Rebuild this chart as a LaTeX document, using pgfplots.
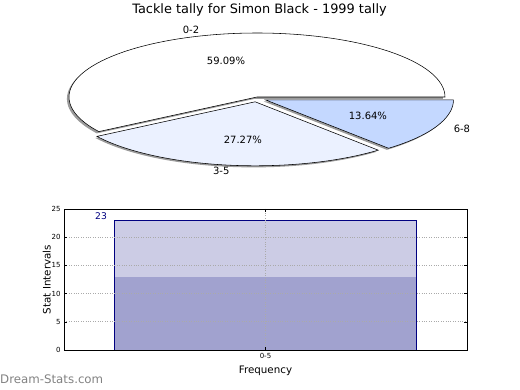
\documentclass[border=0pt]{standalone}
\usepackage{pgfplots}
\pgfplotsset{compat=1.18}
\usepackage{fontspec}
\setmainfont{DejaVu Sans}
\definecolor{s02}{RGB}{255,255,255}
\definecolor{s35}{RGB}{235,241,255}
\definecolor{s68}{RGB}{196,216,255}
\definecolor{barlight}{RGB}{204,204,229}
\definecolor{bardark}{RGB}{161,162,207}
\definecolor{navyb}{RGB}{0,0,128}
\definecolor{shadowc}{RGB}{155,155,155}
\definecolor{gridc}{RGB}{170,170,170}
\definecolor{wmark}{RGB}{130,130,130}

% pie data (percent of tackles)
\pgfmathsetmacro{\pA}{59.09}
\pgfmathsetmacro{\pB}{27.27}
\pgfmathsetmacro{\pC}{13.64}
\pgfmathsetmacro{\aA}{\pA*3.6}
\pgfmathsetmacro{\aB}{\aA+\pB*3.6}
\pgfmathsetmacro{\aC}{\aB+\pC*3.6}

\begin{document}
\begin{tikzpicture}
\path[use as bounding box] (0pt,0pt) rectangle (520pt,390pt);
\node[font=\fontsize{12.9}{14}\selectfont] at (259.5pt,380pt) {Tackle tally for Simon Black - 1999 tally};
\node[anchor=west, text=wmark, inner sep=0pt, font=\fontsize{11.8}{13}\selectfont] at (0pt,11pt) {Dream-Stats.com};

% ---------- pie ----------
\begin{axis}[
  x=188pt, y=64pt, xmin=-1.3, xmax=1.3, ymin=-1.3, ymax=1.3,
  hide axis, clip=false, anchor=center, at={(257pt,293pt)}, samples=90,
  every node/.style={font=\fontsize{10.2}{12}\selectfont}]
% shadows
\addplot[mark=none, fill=shadowc, draw=none, domain=0:\aA] ({cos(x)-0.011},{sin(x)-0.028}) -- (axis cs:-0.011,-0.028) -- cycle;
\addplot[mark=none, fill=shadowc, draw=none, domain=\aA:\aB] ({cos(x)-0.018},{sin(x)-0.1}) -- (axis cs:-0.018,-0.1) -- cycle;
\addplot[mark=none, fill=shadowc, draw=none, domain=\aB:\aC] ({cos(x)+0.036},{sin(x)-0.07}) -- (axis cs:0.036,-0.07) -- cycle;
% slices
\addplot[mark=none, fill=s02, draw=black, line width=0.55pt, domain=0:\aA] ({cos(x)},{sin(x)}) -- (axis cs:0,0) -- cycle;
\addplot[mark=none, fill=s35, draw=black, line width=0.55pt, domain=\aA:\aB] ({cos(x)-0.01},{sin(x)-0.075}) -- (axis cs:-0.01,-0.075) -- cycle;
\addplot[mark=none, fill=s68, draw=black, line width=0.55pt, domain=\aB:\aC] ({cos(x)+0.045},{sin(x)-0.045}) -- (axis cs:0.045,-0.045) -- cycle;
% labels
\node at (axis cs:-0.351,1.05) {0-2};
\node at (axis cs:-0.165,0.57) {59.09\%};
\node at (axis cs:-0.075,-0.67) {27.27\%};
\node at (axis cs:-0.19,-1.16) {3-5};
\node at (axis cs:0.59,-0.30) {13.64\%};
\node at (axis cs:1.09,-0.50) {6-8};
\end{axis}

% ---------- bar ----------
\begin{axis}[
  at={(64pt,40pt)}, anchor=south west, scale only axis, width=403pt, height=141pt,
  xmin=-0.5, xmax=0.5, ymin=0, ymax=25,
  xtick={0}, xticklabels={0-5}, ytick={0,5,...,25},
  grid=major, grid style={dotted, color=gridc, line width=0.9pt},
  axis on top,
  tick style={black, line width=0.5pt}, major tick length=3pt,
  tick label style={font=\fontsize{7}{8}\selectfont},
  /pgf/number format/assume math mode=true,
  xlabel={Frequency}, ylabel={Stat Intervals},
  label style={font=\fontsize{10.3}{12}\selectfont},
  ylabel style={yshift=-6pt},
  axis line style={line width=0.8pt},
]
\addplot[ybar, bar width=0.75, bar shift=0pt, fill=barlight, draw=none] coordinates {(0,23)};
\addplot[ybar, bar width=0.75, bar shift=0pt, fill=bardark, draw=none] coordinates {(0,13)};
\addplot[ybar, bar width=0.75, bar shift=0pt, fill=none, draw=navyb, line width=0.8pt] coordinates {(0,23)};
\node[text=navyb, font=\fontsize{9.2}{10}\selectfont] at (axis cs:-0.408,23.8) {23};
\end{axis}
\end{tikzpicture}
\end{document}
